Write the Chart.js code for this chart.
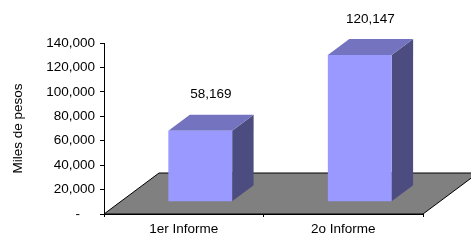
<!DOCTYPE html>
<html>
<head>
<meta charset="utf-8">
<script src="https://cdn.jsdelivr.net/npm/chart.js@4"></script>
<style>
html,body{margin:0;padding:0;background:#fff;}
#wrap{width:471px;height:242px;position:relative;}
</style>
</head>
<body>
<div id="wrap"><canvas id="c" width="471" height="242"></canvas></div>
<script>
const categories = ['1er Informe', '2o Informe'];
const values = [58169, 120147];
const yTicks = [0, 20000, 40000, 60000, 80000, 100000, 120000, 140000];
const axisTitle = 'Miles de pesos';

const FONT = 'Liberation Sans, Arial, sans-serif';
const FS = 13.5;
const DEPTH_X = 55, DEPTH_Y = 41;      // floor depth
const FRONT = 0.3;                     // bar front position within depth
const BAR_D = 0.39;                    // bar depth fraction

const fmt = v => v === 0 ? '-    ' : v.toLocaleString('en-US');

const threeD = {
  id: 'threeD',
  beforeDatasetsDraw(chart) {
    const {ctx, chartArea: a} = chart;
    ctx.save();
    ctx.beginPath();
    ctx.moveTo(a.left, a.bottom);
    ctx.lineTo(a.right, a.bottom);
    ctx.lineTo(a.right + DEPTH_X, a.bottom - DEPTH_Y);
    ctx.lineTo(a.left + DEPTH_X, a.bottom - DEPTH_Y);
    ctx.closePath();
    ctx.fillStyle = '#808080';
    ctx.fill();
    ctx.strokeStyle = '#000';
    ctx.lineWidth = 1;
    ctx.stroke();
    ctx.restore();
  },
  beforeDatasetDraw(chart) {
    const ctx = chart.ctx;
    ctx.save();
    ctx.translate(DEPTH_X * FRONT, -DEPTH_Y * FRONT);
    const meta = chart.getDatasetMeta(0);
    const dx = DEPTH_X * BAR_D, dy = DEPTH_Y * BAR_D;
    meta.data.forEach(bar => {
      const l = bar.x - bar.width / 2, r = bar.x + bar.width / 2;
      const t = bar.y, b = bar.base;
      ctx.beginPath();
      ctx.moveTo(r, t); ctx.lineTo(r + dx, t - dy); ctx.lineTo(r + dx, b - dy); ctx.lineTo(r, b);
      ctx.closePath();
      ctx.fillStyle = '#4c4c80';
      ctx.fill();
      ctx.beginPath();
      ctx.moveTo(l, t); ctx.lineTo(l + dx, t - dy); ctx.lineTo(r + dx, t - dy); ctx.lineTo(r, t);
      ctx.closePath();
      ctx.fillStyle = '#7373c0';
      ctx.fill();
    });
  },
  afterDatasetDraw(chart) {
    const ctx = chart.ctx;
    const meta = chart.getDatasetMeta(0);
    const dx = DEPTH_X * BAR_D, dy = DEPTH_Y * BAR_D;
    ctx.fillStyle = '#000';
    ctx.font = FS + 'px ' + FONT;
    ctx.textAlign = 'center';
    ctx.textBaseline = 'middle';
    meta.data.forEach((bar, i) => {
      ctx.fillText(fmt(values[i]), bar.x + dx / 2, bar.y - dy - 20);
    });
    ctx.restore();
  }
};

new Chart(document.getElementById('c'), {
  type: 'bar',
  data: {
    labels: categories,
    datasets: [{
      data: values,
      backgroundColor: '#9999ff',
      borderWidth: 0,
      barPercentage: 0.4,
      categoryPercentage: 1,
      clip: false
    }]
  },
  options: {
    responsive: false,
    animation: false,
    events: [],
    layout: {padding: {top: 43, right: 48, left: 0, bottom: 0}},
    plugins: {legend: {display: false}, tooltip: {enabled: false}},
    scales: {
      x: {
        grid: {drawOnChartArea: false, tickLength: 3, color: '#000', offset: true},
        border: {color: '#000', width: 1},
        ticks: {color: '#000', font: {family: FONT, size: FS}, padding: 4, maxRotation: 0},
        afterFit(s) { s.height = 28; }
      },
      y: {
        min: 0, max: 140000,
        afterBuildTicks(s) { s.ticks = yTicks.map(v => ({value: v})); },
        grid: {drawOnChartArea: false, tickLength: 4, color: '#000'},
        border: {color: '#000', width: 1},
        ticks: {color: '#000', font: {family: FONT, size: FS}, padding: 5, callback: v => fmt(v)},
        title: {display: true, text: axisTitle, color: '#000', font: {family: FONT, size: FS}, padding: {top: 10, bottom: 0}},
        afterFit(s) { s.width = 104; }
      }
    }
  },
  plugins: [threeD]
});
</script>
</body>
</html>
